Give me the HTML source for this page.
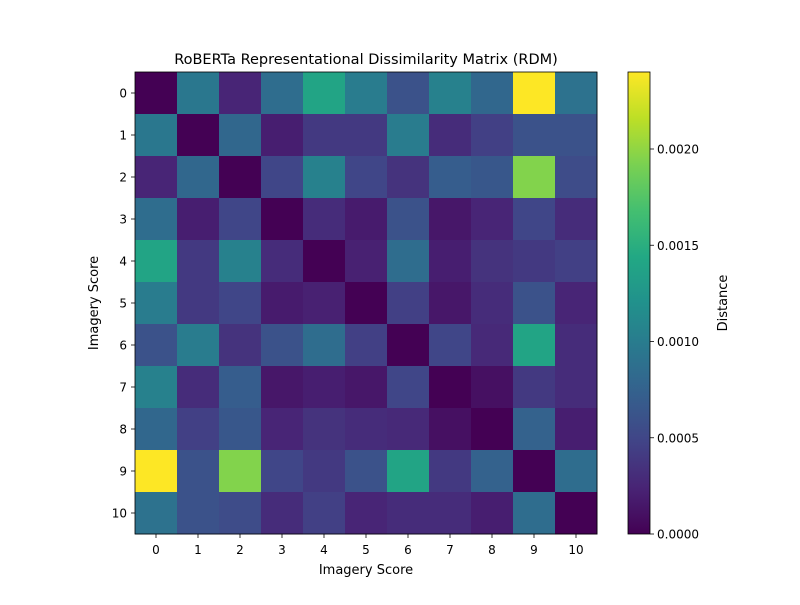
<!DOCTYPE html>
<html><head><meta charset="utf-8"><style>
body{margin:0;background:#fff;font-family:"Liberation Sans","DejaVu Sans",sans-serif;}
svg text{font-family:"DejaVu Sans","Liberation Sans",sans-serif;fill:#000;}
</style></head><body>
<svg id="chart" width="800" height="600" xmlns="http://www.w3.org/2000/svg">
<rect width="800" height="600" fill="#fff"/>
<text x="366" y="64" font-size="14.5" text-anchor="middle">RoBERTa Representational Dissimilarity Matrix (RDM)</text>
<g id="cells"></g>
<g id="axes"></g>
<text x="366" y="574" font-size="13" text-anchor="middle">Imagery Score</text>
<text transform="translate(98,303) rotate(-90)" font-size="13" text-anchor="middle">Imagery Score</text>
<defs><linearGradient id="cg" x1="0" y1="1" x2="0" y2="0"></linearGradient></defs>
<rect x="628" y="72" width="22" height="462" fill="url(#cg)" stroke="#000" stroke-width="0.8"/>
<g id="cbticks"></g>
<text transform="translate(727,303) rotate(-90)" font-size="13" text-anchor="middle">Distance</text>
</svg>
<script>
const categories=[0,1,2,3,4,5,6,7,8,9,10];
const upper=[
[0,0.00095,0.00025,0.00085,0.0014,0.001,0.0006,0.00105,0.0008,0.0024,0.0009],
[0,0,0.0008,0.0002,0.0004,0.0004,0.001,0.0003,0.00045,0.0006,0.0006],
[0,0,0,0.0005,0.00105,0.0005,0.00035,0.0007,0.00065,0.00195,0.00055],
[0,0,0,0,0.0003,0.00018,0.0006,0.00015,0.00025,0.0005,0.0003],
[0,0,0,0,0,0.00022,0.00085,0.0002,0.00035,0.0004,0.00045],
[0,0,0,0,0,0,0.00045,0.00015,0.0003,0.0006,0.00025],
[0,0,0,0,0,0,0,0.0005,0.00028,0.0014,0.0003],
[0,0,0,0,0,0,0,0,0.0001,0.0004,0.0003],
[0,0,0,0,0,0,0,0,0,0.00075,0.0002],
[0,0,0,0,0,0,0,0,0,0,0.00085],
[0,0,0,0,0,0,0,0,0,0,0]];
const cbTicks=[0,0.0005,0.001,0.0015,0.002];
const cbLabels=["0.0000","0.0005","0.0010","0.0015","0.0020"];
const vmax=0.0024;
const V=["#440154","#482475","#414487","#355f8d","#2a788e","#21918c","#22a884","#44bf70","#7ad151","#bddf26","#fde725"];
function hex(h){return [1,3,5].map(i=>parseInt(h.substr(i,2),16));}
function vir(t){t=Math.max(0,Math.min(1,t));const p=t*10,i=Math.min(9,Math.floor(p)),f=p-i;const a=hex(V[i]),b=hex(V[i+1]);return "rgb("+a.map((v,k)=>Math.round(v+(b[k]-v)*f)).join(",")+")";}
const X0=135,Y0=72,W=462,n=categories.length,cs=W/n;
const xs=i=>X0+i*cs, ys=i=>Y0+i*cs;
const NS="http://www.w3.org/2000/svg";
const cells=document.getElementById('cells'),axes=document.getElementById('axes');
function val(i,j){return i<=j?upper[i][j]:upper[j][i];}
for(let i=0;i<n;i++)for(let j=0;j<n;j++){
 const r=document.createElementNS(NS,'rect');
 r.setAttribute('x',xs(j));r.setAttribute('y',ys(i));r.setAttribute('width',cs+0.5);r.setAttribute('height',cs+0.5);
 r.setAttribute('fill',vir(val(i,j)/vmax));
 
 
 cells.appendChild(r);}
const fr=document.createElementNS(NS,'rect');
fr.setAttribute('x',X0);fr.setAttribute('y',Y0);fr.setAttribute('width',W);fr.setAttribute('height',W);fr.setAttribute('fill','none');fr.setAttribute('stroke','#000');fr.setAttribute('stroke-width','0.8');


axes.appendChild(fr);
categories.forEach((c,i)=>{
 const cx=xs(i)+cs/2;
 axes.insertAdjacentHTML('beforeend',`<line x1="${cx}" x2="${cx}" y1="534" y2="538" stroke="#000" stroke-width="0.8"/><line x1="131" x2="135" y1="${ys(i)+cs/2}" y2="${ys(i)+cs/2}" stroke="#000" stroke-width="0.8"/>`);
 const tx=document.createElementNS(NS,'text');tx.setAttribute('x',cx);tx.setAttribute('y',554);tx.setAttribute('font-size','12');tx.setAttribute('text-anchor','middle');tx.textContent=c;
 
 
 axes.appendChild(tx);
 const ty=document.createElementNS(NS,'text');ty.setAttribute('x',127);ty.setAttribute('y',ys(i)+cs/2+4.5);ty.setAttribute('font-size','12');ty.setAttribute('text-anchor','end');ty.textContent=c;
 
 
 axes.appendChild(ty);
});
const g=document.getElementById('cg');
for(let k=0;k<=20;k++){const s=document.createElementNS(NS,'stop');s.setAttribute('offset',k/20);s.setAttribute('stop-color',vir(k/20));g.appendChild(s);}
const cb=document.getElementById('cbticks');
cbTicks.forEach((v,i)=>{
 const y=534-v/vmax*462;
 cb.insertAdjacentHTML('beforeend',`<line x1="650" x2="654" y1="${y}" y2="${y}" stroke="#000" stroke-width="0.8"/>`);
 const t=document.createElementNS(NS,'text');t.setAttribute('x',657);t.setAttribute('y',y+4.5);t.setAttribute('font-size','12');t.textContent=cbLabels[i];
 
 
 cb.appendChild(t);
});
</script>
</body></html>
